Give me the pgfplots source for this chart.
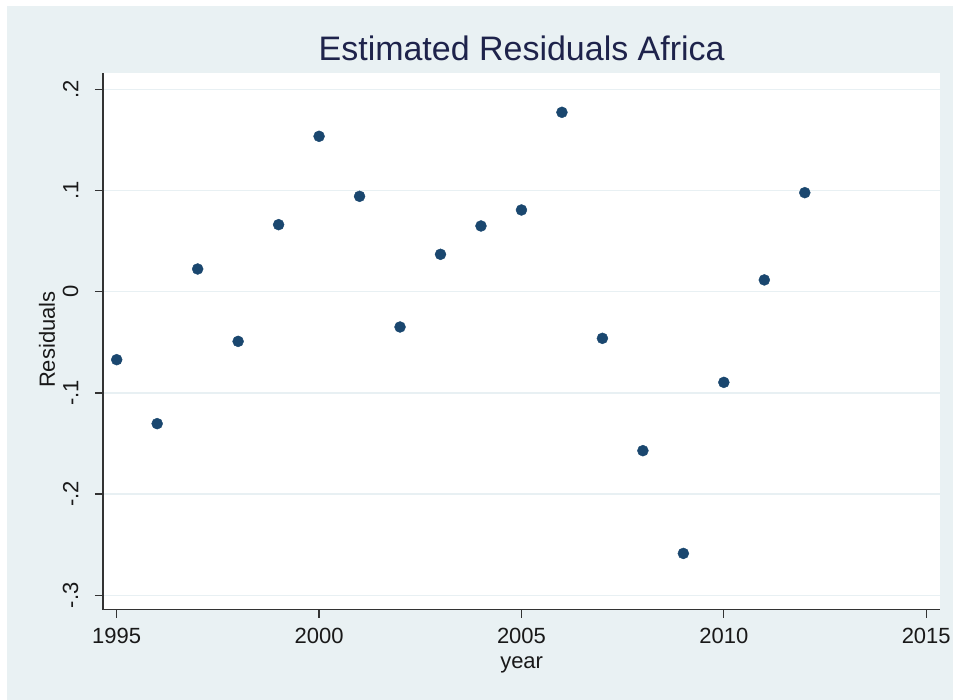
\documentclass[border=0pt]{standalone}
\usepackage{pgfplots}
\pgfplotsset{compat=1.18}
\usepackage{fontspec}
\setmainfont{Liberation Sans}
\definecolor{bgc}{RGB}{233,241,243}
\definecolor{mk}{RGB}{26,71,111}
\definecolor{ttl}{RGB}{30,35,75}
\definecolor{gridc}{RGB}{232,240,243}
\begin{document}
\begin{tikzpicture}[x=1pt,y=1pt]
\fill[white] (0,0) rectangle (954,700);
\fill[bgc] (7,0) rectangle (954,694);
\node[anchor=base, text=ttl, font=\fontsize{34}{40}\selectfont, inner sep=0pt] at (522,639.3) {Estimated Residuals Africa};
\begin{axis}[
  at={(103pt,90pt)}, anchor=south west,
  width=838pt, height=537pt, scale only axis,
  xmin=1994.66, xmax=2015.35, ymin=-0.3141, ymax=0.2161,
  axis background/.style={fill=white},
  axis x line=bottom, axis y line=left,
  axis line style={-, line width=1.3pt, color=black!80},
  tick style={line width=1.3pt, color=black!80},
  tick align=outside, major tick length=8pt,
  xtick={1995,2000,2005,2010,2015},
  xticklabels={1995,2000,2005,2010,2015},
  ytick={-0.3,-0.2,-0.1,0,0.1,0.2},
  yticklabels={-.3,-.2,-.1,0,.1,.2},
  ticklabel style={font=\fontsize{22}{26}\selectfont, text=black!90},
  xticklabel style={yshift=-7pt},
  yticklabel style={xshift=-13pt, rotate=90, anchor=south},
  ymajorgrids, grid style={gridc, line width=1.3pt},
  xlabel={year}, ylabel={Residuals},
  label style={font=\fontsize{22}{26}\selectfont, text=black!90},
  xlabel style={at={(axis description cs:0.5,-0.103)}, anchor=center},
  ylabel style={at={(axis description cs:-0.0668,0.503)}, anchor=center},
  clip=false,
]
\addplot[only marks, mark=*, mark size=5.5pt, mark options={fill=mk, draw=mk}] coordinates {
(1995,-0.0672) (1996,-0.1304) (1997,0.0224) (1998,-0.0491) (1999,0.0662)
(2000,0.1535) (2001,0.0942) (2002,-0.0349) (2003,0.0369) (2004,0.0649)
(2005,0.0807) (2006,0.1772) (2007,-0.0461) (2008,-0.1571) (2009,-0.2586)
(2010,-0.0896) (2011,0.0116) (2012,0.0978)
};
\end{axis}
\end{tikzpicture}
\end{document}
